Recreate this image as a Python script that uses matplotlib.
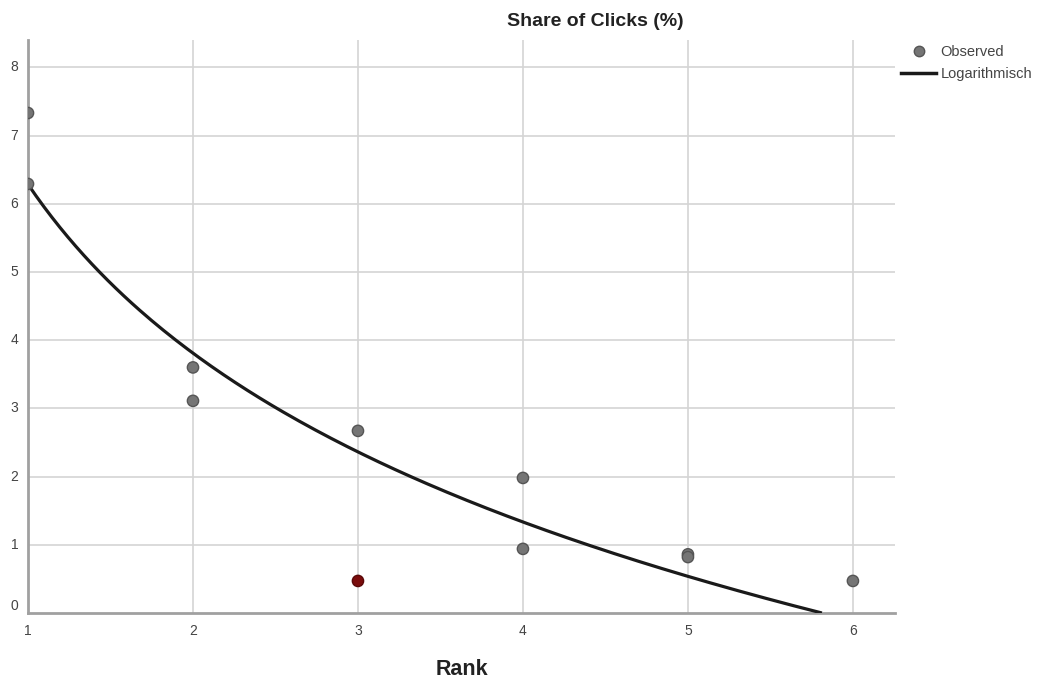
import numpy as np
import matplotlib
matplotlib.use("Agg")
import matplotlib.pyplot as plt
from matplotlib.lines import Line2D

plt.rcParams['font.family'] = ['Liberation Sans', 'DejaVu Sans']

# observed values (rank, share of clicks in %)
rank = [1, 1, 2, 2, 3, 3, 4, 4, 5, 5, 6]
share = [7.33, 6.29, 3.60, 3.11, 2.67, 0.47, 1.98, 0.94, 0.86, 0.82, 0.47]
# one highlighted case (index into the lists above)
highlight_idx = 5

x_ticks = [1, 2, 3, 4, 5, 6]
y_ticks = [0, 1, 2, 3, 4, 5, 6, 7, 8]

# logarithmic fit: y = a + b*ln(x)
b, a = np.polyfit(np.log(rank), share, 1)
x_end = np.exp(-a / b)  # where the curve reaches 0
xf = np.linspace(1, x_end, 200)
yf = a + b * np.log(xf)

fig = plt.figure(figsize=(10.59, 6.84), dpi=100)
ax = fig.add_axes([28 / 1059, 71 / 684, 867 / 1059, 573 / 684])

grid_c = '#d4d4d4'
for t in x_ticks[1:]:
    ax.axvline(t, color=grid_c, lw=1.2, zorder=0)
for t in y_ticks[1:]:
    ax.axhline(t, color=grid_c, lw=1.2, zorder=0)

ax.plot(xf, yf, color='#1a1a1a', lw=2.3, zorder=3, solid_capstyle='butt')

colors = ['#757575'] * len(rank)
edges = ['#555555'] * len(rank)
colors[highlight_idx] = '#7a0c0c'
edges[highlight_idx] = '#5a0808'
ax.scatter(rank, share, s=66, c=colors, edgecolors=edges, linewidths=1.0, zorder=4)

ax.set_xlim(1, 6.255)
ax.set_ylim(0, 8.4)
ax.set_xticks(x_ticks)
ax.set_yticks(y_ticks)

for s in ['top', 'right']:
    ax.spines[s].set_visible(False)
for s in ['left', 'bottom']:
    ax.spines[s].set_color('#a0a0a0')
    ax.spines[s].set_linewidth(2)
ax.tick_params(length=0, labelsize=10, colors='#444444')
ax.tick_params(axis='x', pad=8)
ax.tick_params(axis='y', pad=7)
for lab in ax.get_yticklabels():
    lab.set_verticalalignment('bottom' if lab.get_text() == '0' else 'center')

ax.set_xlabel('Rank', fontsize=15.5, fontweight='bold', color='#222222', labelpad=15)
fig.text(595 / 1059, 1 - 22 / 684, 'Share of Clicks (%)', ha='center', va='center',
         fontsize=14, fontweight='bold', color='#222222')

handles = [
    Line2D([], [], marker='o', ls='none', markersize=7.5, markerfacecolor='#757575',
           markeredgecolor='#555555', label='Observed'),
    Line2D([], [], color='#1a1a1a', lw=2.5, label='Logarithmisch'),
]
leg = fig.legend(handles=handles, loc='upper left', bbox_to_anchor=(901 / 1059, 1 - 45 / 684),
                 frameon=False, fontsize=10.5, handlelength=2.4, handletextpad=0.3,
                 labelspacing=0.55, borderaxespad=0, borderpad=0)
for t in leg.get_texts():
    t.set_color('#444444')

fig.savefig('out.png', dpi=100)
